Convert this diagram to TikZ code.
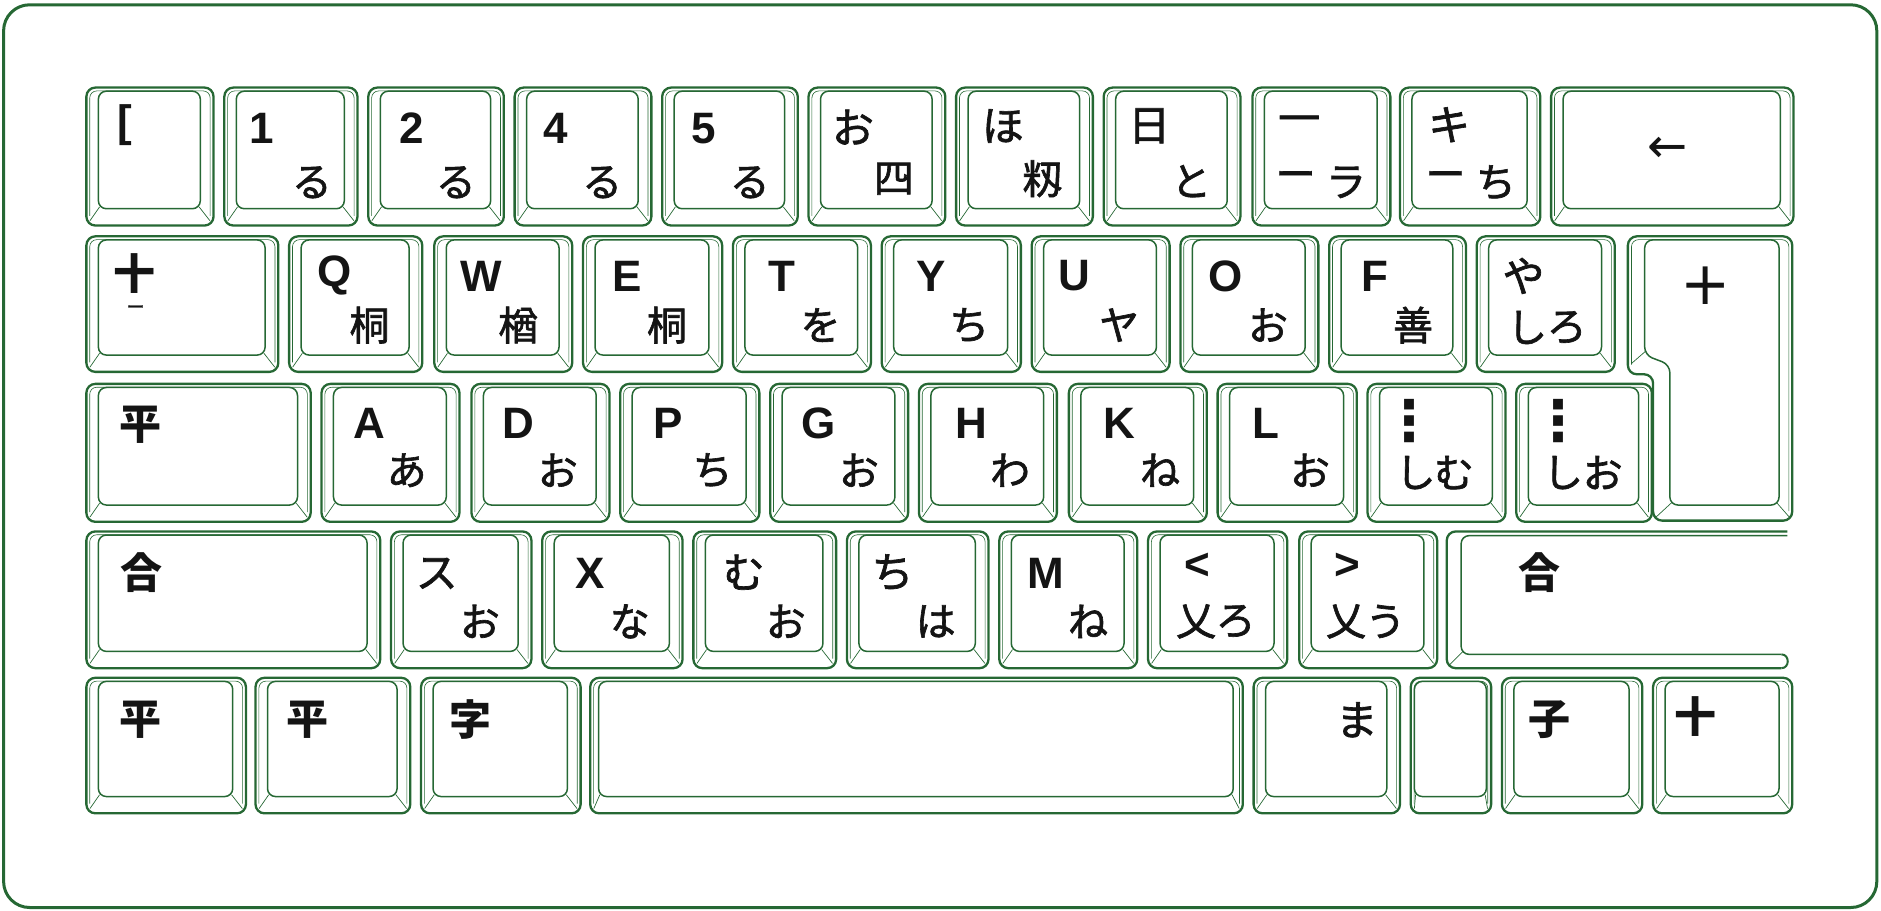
\documentclass[tikz,border=0pt]{standalone}
\usepackage{fontspec}
\setmainfont{Liberation Sans}
\newfontfamily\jp[FakeBold=1.6]{Noto Sans CJK JP}
\newfontfamily\jpk{Noto Sans CJK JP}
\newfontfamily\dv{DejaVu Sans}
\definecolor{kg}{RGB}{38,104,52}
\definecolor{ink}{RGB}{20,20,20}
\tikzset{
  kouter/.style={draw=kg, line width=2.3pt, rounded corners=9pt},
  kthin/.style={draw=kg, line width=0.6pt, rounded corners=7pt},
  ktop/.style={draw=kg, line width=1.5pt, rounded corners=8pt},
  kbev/.style={draw=kg, line width=0.7pt},
  frame/.style={draw=kg, line width=3pt, rounded corners=26pt},
  latl/.style={inner sep=0pt, text=ink, font={\bfseries\fontsize{44}{46}\selectfont}},
  jtop/.style={inner sep=0pt, text=ink, font={\jp\fontsize{42}{44}\selectfont}},
  ktop label/.style={inner sep=0pt, text=ink, font={\jpk\bfseries\fontsize{42}{44}\selectfont}},
  jbot/.style={inner sep=0pt, text=ink, font={\jp\fontsize{40}{42}\selectfont}},
  symb/.style={inner sep=0pt, text=ink, font={\dv\fontsize{48}{50}\selectfont}},
}
% key: [side inset]{x1}{y1}{x2}{y2}
\newcommand\kb[5][10]{%
  \draw[kouter] (#2,#3) rectangle (#4,#5);
  \draw[kthin] (#2+2.8,#5-8) -- (#2+2.8,#3+2.8) -- (#4-2.8,#3+2.8) -- (#4-2.8,#5-8);
  \draw[ktop] (#2+#1,#3+3) rectangle (#4-#1-1,#5-14);
  \draw[kbev] (#2+#1+1,#5-15.5) -- (#2+3,#5-4);
  \draw[kbev] (#4-#1-2,#5-15.5) -- (#4-3,#5-4);
}
\newcommand\lt[4]{\node[latl] (#1) at (#2,#3) {#4};}
\newcommand\jt[4]{\node[jtop] (#1) at (#2,#3) {#4};}
\newcommand\kt[4]{\node[ktop label] (#1) at (#2,#3) {#4};}
\newcommand\jb[4]{\node[jbot] (#1) at (#2,#3) {#4};}
\begin{document}
\begin{tikzpicture}[x=1.2pt, y=-1.2pt]
\useasboundingbox (0,0) rectangle (1568,759);
\draw[frame] (3,4) rectangle (1564.5,756.5);
% ---- row 1
\foreach \a/\b in {72/178,187/298,307/420,429/543,552/665,674/788,797/911,920/1034,1044/1159,1167/1284,1293/1495}
  {\kb{\a}{73}{\b}{188}}
% ---- row 2
\foreach \a/\b in {72/232,241/352,362/477,486/602,611/726,735/851,860/975,984/1099,1108/1222,1231/1346}
  {\kb{\a}{197}{\b}{310}}
% ---- row 3
\foreach \a/\b in {72/259,268/383,393/508,517/633,642/757,766/881,891/1006,1015/1131,1140/1255,1264/1377}
  {\kb{\a}{320}{\b}{435}}
% ---- row 4
\foreach \a/\b in {72/317,326/443,452/569,578/697,706/824,833/948,957/1073,1083/1198}
  {\kb{\a}{443}{\b}{557}}
% ---- row 5
\foreach \a/\b in {72/205,213/342,351/484,1045/1167,1252/1369,1378/1494}
  {\kb{\a}{565}{\b}{678}}
\kb[7]{492}{565}{1036}{678}
\kb[3]{1176}{565}{1243}{678}
% ---- enter key
\draw[kouter] (1357,197) -- (1494,197) -- (1494,434) -- (1378,434) -- (1378,312) -- (1357,312) -- cycle;
\draw[kthin] (1360,304) -- (1360,199.8) -- (1491.2,199.8) -- (1491.2,426);
\draw[ktop] (1371,200) -- (1483,200) -- (1483,421) -- (1392,421) -- (1392,304) -- (1371,296) -- cycle;
\draw[kbev] (1393.5,419) -- (1380.5,431);
\draw[kbev] (1481,419) -- (1491.5,431);
\draw[kbev] (1371.5,293) -- (1360,303);
% ---- right shift
\draw[kouter] (1490,443) -- (1206,443) -- (1206,557) -- (1485,557);
\draw[draw=kg, line width=2pt] (1485,557) .. controls (1492,557) and (1492,545.5) .. (1485,545.5);
\draw[ktop] (1485,545.5) -- (1218,545.5) -- (1218,446.5) -- (1490,446.5);
\draw[kbev] (1219.5,543) -- (1208.5,554);
% ---- labels row 1
\lt{r1a}{104}{104}{[}
\lt{r1b}{218}{107}{1}
\lt{r1c}{343}{107}{2}
\lt{r1d}{463}{107}{4}
\lt{r1e}{587}{107}{5}
\jt{r1f}{711}{106}{お}
\jt{r1g}{836}{105}{ほ}
\jt{r1h}{958}{105}{日}
\jt{r1i}{1083}{104}{一}
\jt{r1j}{1208}{104}{キ}
\node[symb] (r1k) at (1390,125) {←};
\jb{s1b}{260}{152}{る}
\jb{s1c}{380}{152}{る}
\jb{s1d}{502}{152}{る}
\jb{s1e}{625}{152}{る}
\jb{s1f}{745}{149}{四}
\jb{s1g}{869}{149}{籾}
\jb{s1h}{993}{151}{と}
\jb{s1i}{1080}{150}{ー}
\jb{s1ii}{1122}{152}{ラ}
\jb{s1j}{1205}{150}{ー}
\jb{s1jj}{1247}{152}{ち}
% ---- labels row 2
\kt{r2a}{112}{228}{十}
\node[jbot, font={\jp\fontsize{18}{20}\selectfont}] (r2aa) at (113,258) {ー};
\lt{r2b}{279}{230}{Q}
\lt{r2c}{401}{230}{W}
\lt{r2d}{523}{230}{E}
\lt{r2e}{652}{230}{T}
\lt{r2f}{776}{230}{Y}
\lt{r2g}{896}{230}{U}
\lt{r2h}{1022}{230}{O}
\lt{r2i}{1146}{230}{F}
\jt{r2j}{1270}{230}{や}
\node[symb, font={\dv\fontsize{60}{62}\selectfont}] (r2k) at (1422,238) {+};
\jb{s2b}{308}{271}{桐}
\jb{s2c}{432}{271}{楢}
\jb{s2d}{556}{271}{桐}
\jb{s2e}{684}{271}{を}
\jb{s2f}{808}{271}{ち}
\jb{s2g}{933}{271}{ヤ}
\jb{s2h}{1057}{271}{お}
\jb{s2i}{1178}{271}{善}
\jb{s2j}{1273}{273}{し}
\jb{s2jj}{1306}{273}{ろ}
% ---- labels row 3
\kt{r3a}{117}{354}{平}
\lt{r3b}{308}{353}{A}
\lt{r3c}{432}{353}{D}
\lt{r3d}{557}{353}{P}
\lt{r3e}{682}{353}{G}
\lt{r3f}{810}{353}{H}
\lt{r3g}{933}{353}{K}
\lt{r3h}{1055}{353}{L}
\node[symb, font={\dv\bfseries\fontsize{56}{58}\selectfont}] (r3i) at (1175,351) {⋮};
\node[symb, font={\dv\bfseries\fontsize{56}{58}\selectfont}] (r3j) at (1299,351) {⋮};
\jb{s3b}{339}{392}{あ}
\jb{s3c}{465}{392}{お}
\jb{s3d}{594}{392}{ち}
\jb{s3e}{716}{392}{お}
\jb{s3f}{842}{392}{わ}
\jb{s3g}{967}{392}{ね}
\jb{s3h}{1092}{392}{お}
\jb{s3i}{1180}{394}{し}
\jb{s3ii}{1212}{394}{む}
\jb{s3j}{1303}{394}{し}
\jb{s3jj}{1336}{394}{お}
% ---- labels row 4
\kt{r4a}{118}{477}{合}
\jt{r4b}{364}{478}{ス}
\lt{r4c}{492}{478}{X}
\jt{r4d}{620}{477}{む}
\jt{r4e}{744}{477}{ち}
\lt{r4f}{872}{478}{M}
\lt{r4g}{998}{472}{<}
\lt{r4h}{1123}{472}{>}
\kt{r4i}{1283}{477}{合}
\jb{s4b}{400}{518}{お}
\jb{s4c}{525}{518}{な}
\jb{s4d}{655}{518}{お}
\jb{s4e}{780}{518}{は}
\jb{s4f}{907}{518}{ね}
\jb{s4g}{997}{518}{乂}
\jb{s4gg}{1030}{518}{ろ}
\jb{s4h}{1122}{518}{乂}
\jb{s4hh}{1155}{518}{う}
% ---- labels row 5
\kt{r5a}{117}{600}{平}
\kt{r5b}{256}{600}{平}
\kt{r5c}{392}{600}{字}
\jt{r5d}{1131}{600}{ま}
\kt{r5e}{1292}{600}{子}
\kt{r5f}{1413}{597}{十}
\end{tikzpicture}
\end{document}
